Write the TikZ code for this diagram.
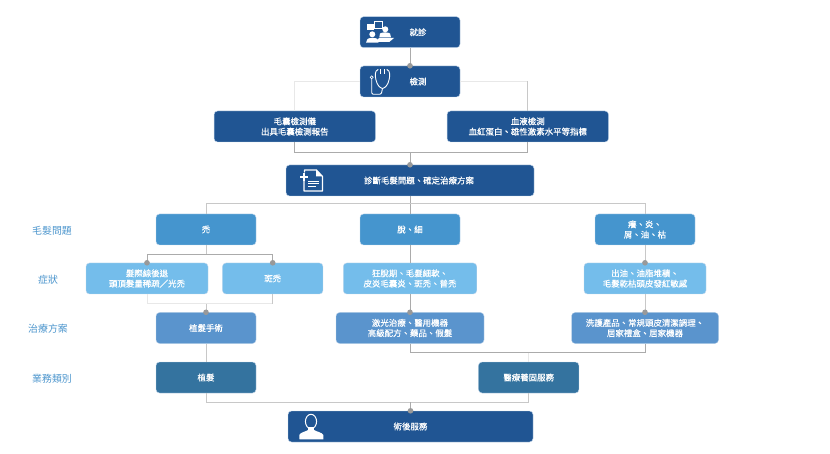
\documentclass[tikz,border=0pt]{standalone}
\usepackage{fontspec}
\setmainfont{Noto Sans CJK TC}
\newfontfamily\boxfont[FakeBold=0.5]{Noto Sans CJK TC}
\definecolor{cdark}{HTML}{205593}
\definecolor{cmid}{HTML}{4595CE}
\definecolor{clight}{HTML}{74BDEB}
\definecolor{ctreat}{HTML}{5A94CD}
\definecolor{cbiz}{HTML}{34739F}
\definecolor{cedge}{HTML}{C2D6EA}
\definecolor{clabel}{HTML}{4A94CC}
\definecolor{gdark}{HTML}{ABABAB}
\definecolor{gmid}{HTML}{C8C8C8}
\definecolor{glight}{HTML}{E8E8E8}
\definecolor{cdot}{HTML}{999999}
\tikzset{
  boxbase/.style={draw=cedge,line width=0.4pt,rounded corners=3.5pt,inner sep=0pt,align=center,
    text=white,minimum height=31pt,font=\boxfont\fontsize{8.45pt}{10.3pt}\selectfont},
  darkbox/.style={boxbase,fill=cdark},
  midbox/.style={boxbase,fill=cmid},
  lightbox/.style={boxbase,fill=clight},
  treatbox/.style={boxbase,fill=ctreat},
  bizbox/.style={boxbase,fill=cbiz},
  rowlabel/.style={inner sep=0pt,text=clabel,font=\fontsize{9.9pt}{12pt}\selectfont},
  gd/.style={draw=gdark,line width=1pt},
  gm/.style={draw=gmid,line width=1pt},
  gl/.style={draw=glight,line width=1pt},
  dotmark/.style={fill=cdot,draw=none},
  iconline/.style={draw=white,line width=0.8pt,line join=round,line cap=round},
  iconfill/.style={fill=white,draw=none}
}
\begin{document}
\begin{tikzpicture}[x=1pt,y=-1pt]
\useasboundingbox (0,0) rectangle (830,454);
% boxes
\node[darkbox,minimum width=100pt] (jz) at (410,32.2) {\hspace*{16pt}就診};
\node[darkbox,minimum width=100pt] (jc) at (410,81.5) {\hspace*{16pt}檢測};
\node[darkbox,minimum width=161.5pt] (mn) at (294.8,126.5) {毛囊檢測儀\\出具毛囊檢測報告};
\node[darkbox,minimum width=161.5pt] (xy) at (527.8,126.5) {血液檢測\\血紅蛋白、雄性激素水平等指標};
\node[darkbox,minimum width=248pt] (zd) at (410,180.5) {\hspace*{18pt}診斷毛髮問題、確定治療方案};
\node[midbox,minimum width=100pt] (tu) at (206,229.5) {禿};
\node[midbox,minimum width=100pt] (tuo) at (410,229.5) {脫、細};
\node[midbox,minimum width=100pt] (yang) at (645,229.5) {癢、炎、\\屑、油、枯};
\node[lightbox,minimum width=122pt] (fj) at (147,278.5) {髮際線後退\\頭頂髮量稀疏／光禿};
\node[lightbox,minimum width=100.5pt] (bt) at (272.7,278.5) {斑禿};
\node[lightbox,minimum width=133.5pt] (kt) at (410,278.5) {狂脫期、毛髮細軟、\\皮炎毛囊炎、斑禿、普禿};
\node[lightbox,minimum width=122pt] (cy) at (645,278.5) {出油、油脂堆積、\\毛髮乾枯頭皮發紅敏感};
\node[treatbox,minimum width=100pt] (zs) at (206,328) {植髮手術};
\node[treatbox,minimum width=148pt] (jg) at (410,328) {激光治療、醫用機器\\高級配方、藥品、假髮};
\node[treatbox,minimum width=147pt] (xh) at (645,328) {洗護產品、常規頭皮清潔調理、\\居家禮盒、居家機器};
\node[bizbox,minimum width=100pt] (zf) at (206,377.5) {植髮};
\node[bizbox,minimum width=100.5pt] (yl) at (528.7,377.5) {醫療養固服務};
\node[darkbox,minimum width=245pt] (sh) at (410.5,426.5) {術後服務};
% row labels
\node[rowlabel] (l1) at (52,231) {毛髮問題};
\node[rowlabel] (l2) at (48,280) {症狀};
\node[rowlabel] (l3) at (48,329) {治療方案};
\node[rowlabel] (l4) at (52,378.5) {業務類別};
% junction points
\coordinate (b1) at (0,153);
\coordinate (b2) at (0,204);
\coordinate (b3) at (0,254.5);
\coordinate (b4) at (0,304);
\coordinate (b5) at (0,352.5);
\coordinate (b6) at (0,402);
% connectors
\draw[gd] (jz.south) -- (jc.north);
\draw[gl] (jc.west) -| (mn.north);
\draw[gl] (jc.east) -- (xy.north |- jc.east);
\draw[gm] (xy.north) -- (xy.north |- jc.east);
\draw[gd] (mn.south) |- (zd.north |- b1) -- (zd.north);
\draw[gd] (xy.south) |- (zd.north |- b1);
\draw[gd] (zd.south) -- (tuo.north);
\draw[gm] (zd.south |- b2) -| (tu.north);
\draw[gm] (zd.south |- b2) -| (yang.north);
\draw[gd] (tu.south |- b3) -| (fj.north);
\draw[gd] (tu.south |- b3) -| (bt.north);
\draw[gm] (tu.south) -- (tu.south |- b3);
\draw[gl] (fj.south) |- (zs.north |- b4);
\draw[gl] (bt.south |- b4) -- (zs.north |- b4);
\draw[gm] (bt.south) -- (bt.south |- b4);
\draw[gm] (zs.north |- b4) -- (zs.north);
\draw[gd] (tuo.south) -- (kt.north);
\draw[gd] (kt.south) -- (jg.north);
\draw[gm] (yang.south) -- (cy.north);
\draw[gm] (cy.south) -- (xh.north);
\draw[gm] (zs.south) -- (zf.north);
\draw[gd] (jg.south) |- (xh.south |- b5) -- (xh.south);
\draw[gl] (yl.north) -- (yl.north |- b5);
\draw[gm] (zf.south) |- (sh.north |- b6);
\draw[gm] (yl.south) |- (sh.north |- b6);
\draw[gd] (sh.north |- b6) -- (sh.north);
% dots
\foreach \p in {jc.north,zd.north,fj.north,bt.north,zs.north,jg.north,cy.north,xh.north,sh.north}
  \fill[dotmark] (\p) circle (2.8);
% icon: consultation
\fill[iconfill] (367,24) rectangle (373.7,30);
\draw[draw=white,line width=0.5pt] (374.3,21.3) rectangle (382.7,28);
\fill[iconfill] (372.3,34.3) circle (3);
\fill[iconfill] (366,42.7) -- (367.5,39) .. controls (369,37.5) and (376,37.5) .. (377.5,39) -- (378.5,42.7) -- cycle;
\fill[iconfill] (385.3,29.3) circle (3);
\fill[iconfill] (379.3,37.5) -- (380,33.5) .. controls (382,32) and (388,32) .. (390,33.5) -- (391,37.5) -- cycle;
\fill[iconfill] (379,38) -- (394,38) -- (389.5,41.8) -- (376,41.8) -- cycle;
% icon: stethoscope
\draw[iconline,line width=0.9pt] (378,69.5) .. controls (374.5,71) and (375,76) .. (376,80) .. controls (377,85) and (380,88) .. (382.5,88.5) .. controls (385,88) and (388,85) .. (389,80) .. controls (390,76) and (390.5,71) .. (387,69.5);
\fill[iconfill] (380,69) rectangle (381.4,74);
\fill[iconfill] (384,69) rectangle (385.4,74);
\draw[iconline,line width=0.9pt] (382.5,88.5) -- (381.5,93) -- (380,94.3) -- (373,94.3) -- (371.7,93) -- (371.7,79);
\draw[draw=white,line width=0.6pt] (371.7,77.3) circle (1.5);
% icon: document
\draw[iconline,line width=1.1pt] (304.5,172) -- (304.5,170) -- (316.5,170) -- (322.5,176.5) -- (322.5,191) -- (304,191) -- (304,181);
\fill[iconfill] (316,169.5) -- (316,176.5) -- (323,176.5) -- cycle;
\draw[iconline,line width=2pt,line cap=butt] (300.3,177.3) -- (308.3,177.3) (304.3,173.3) -- (304.3,181.3);
\draw[draw=white,line width=0.8pt] (308.3,181) -- (319.3,181) (308.3,183.7) -- (319.3,183.7) (308.3,186.3) -- (315.5,186.3);
% icon: support person
\draw[draw=white,line width=1pt] (311,421.5) ellipse (5.6 and 7.2);
\fill[iconfill] (308,427) rectangle (314,431);
\fill[iconfill] (299.5,439.3) -- (299.3,435) .. controls (300,432.5) and (306,431.5) .. (308,430) -- (314,430) .. controls (316,431.5) and (322.5,432.5) .. (323.3,435) -- (323.3,439.3) -- cycle;
\end{tikzpicture}
\end{document}
